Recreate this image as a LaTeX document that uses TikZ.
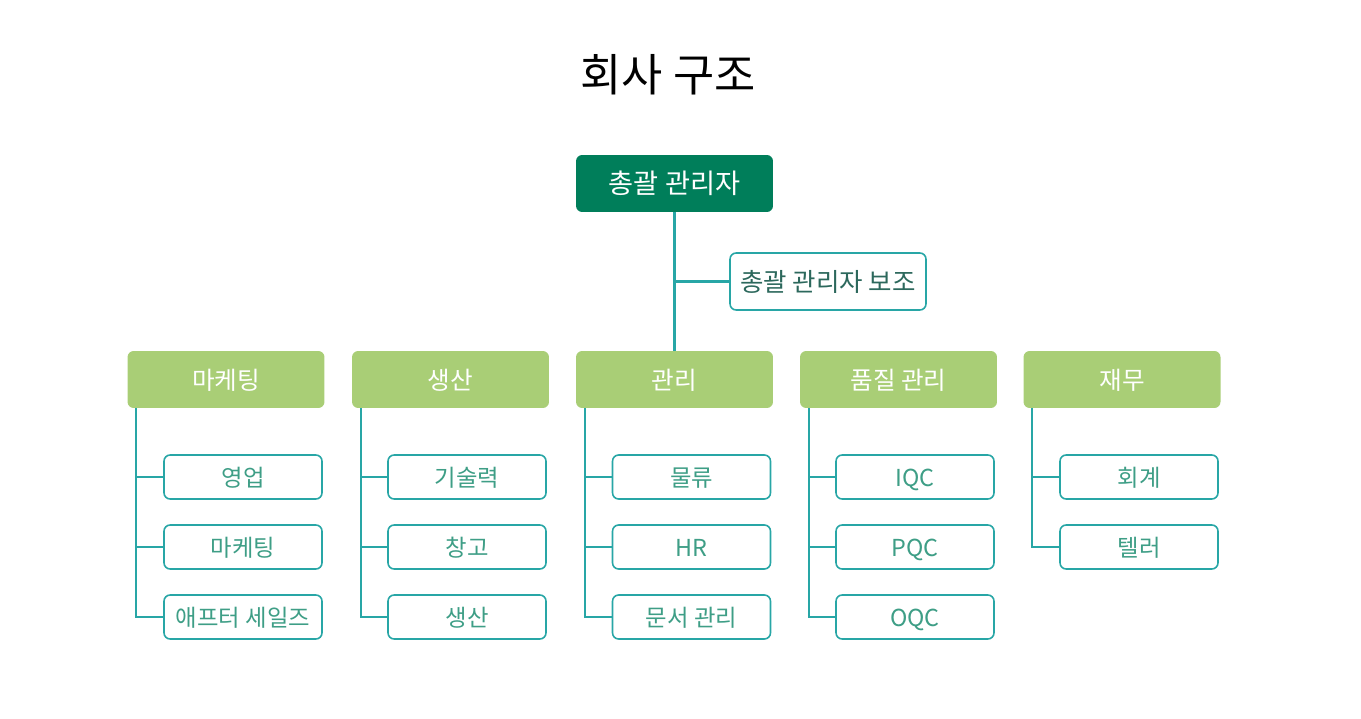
\documentclass[tikz,border=0pt]{standalone}
\usepackage{fontspec}
\setmainfont{Noto Sans CJK KR}
\usetikzlibrary{positioning}

\definecolor{topgreen}{RGB}{0,126,90}
\definecolor{deptgreen}{RGB}{169,206,118}
\definecolor{linkteal}{RGB}{40,166,166}
\definecolor{unittext}{RGB}{62,158,134}
\definecolor{asstext}{RGB}{44,104,92}

\begin{document}
\begin{tikzpicture}[x=0.02cm,y=-0.02cm,
	head/.style={fill=topgreen,text=white,rounded corners=3.5pt,minimum width=3.94cm,minimum height=1.14cm,text height=1.2em,text depth=0.1em,font=\fontsize{15.5}{18}\selectfont},
	assist/.style={draw=linkteal,line width=0.9pt,fill=white,text=asstext,rounded corners=3.5pt,minimum width=3.92cm,minimum height=1.14cm,text height=1.2em,text depth=0.1em,font=\fontsize{14.5}{17}\selectfont},
	dept/.style={fill=deptgreen,text=white,rounded corners=3.5pt,minimum width=3.94cm,minimum height=1.14cm,text height=1.2em,text depth=0.1em,font=\fontsize{14}{16}\selectfont},
	unit/.style={draw=linkteal,line width=0.9pt,fill=white,text=unittext,rounded corners=3.5pt,minimum width=3.16cm,minimum height=0.88cm,text height=1.15em,text depth=0.1em,font=\fontsize{13.3}{16}\selectfont},
	link/.style={draw=linkteal,line width=1.3pt}]
		\useasboundingbox (0,0) rectangle (1361,719);
		%%%
		\node[font=\fontsize{25.5}{30}\selectfont] (title) at (668,75) {회사 구조};
		\node[head] (ceo) at (674.5,183.5) {총괄 관리자};
		\node[assist] (assist) at (828,281.5) {총괄 관리자 보조};
		%%%
		\node[dept] (mkt) at (226,379.5) {마케팅};
		\node[dept] (prod) at (450.5,379.5) {생산};
		\node[dept] (mgmt) at (674.5,379.5) {관리};
		\node[dept] (qual) at (898.5,379.5) {품질 관리};
		\node[dept] (fin) at (1122,379.5) {재무};
		%%%
		\node[unit] (mktA) at (243,477) {영업};
		\node[unit] (mktB) at (243,547) {마케팅};
		\node[unit] (mktC) at (243,617) {애프터 세일즈};
		\node[unit] (prodA) at (467,477) {기술력};
		\node[unit] (prodB) at (467,547) {창고};
		\node[unit] (prodC) at (467,617) {생산};
		\node[unit] (mgmtA) at (691.5,477) {물류};
		\node[unit] (mgmtB) at (691.5,547) {HR};
		\node[unit] (mgmtC) at (691.5,617) {문서 관리};
		\node[unit] (qualA) at (915,477) {IQC};
		\node[unit] (qualB) at (915,547) {PQC};
		\node[unit] (qualC) at (915,617) {OQC};
		\node[unit] (finA) at (1139,477) {회계};
		\node[unit] (finB) at (1139,547) {텔러};
		%%%
		\coordinate (mktline) at ([xshift=0.18cm]mkt.south west);
		\coordinate (prodline) at ([xshift=0.18cm]prod.south west);
		\coordinate (mgmtline) at ([xshift=0.18cm]mgmt.south west);
		\coordinate (qualline) at ([xshift=0.18cm]qual.south west);
		\coordinate (finline) at ([xshift=0.18cm]fin.south west);
		%%%
		\draw[link] (ceo) -- (mgmt);
		\draw[link] (assist.west) -- (assist.west -| ceo.south);
		\draw[link] (mktline) |- (mktC.west);
		\draw[link] (mktline |- mktA.west) -- (mktA.west);
		\draw[link] (mktline |- mktB.west) -- (mktB.west);
		\draw[link] (prodline) |- (prodC.west);
		\draw[link] (prodline |- prodA.west) -- (prodA.west);
		\draw[link] (prodline |- prodB.west) -- (prodB.west);
		\draw[link] (mgmtline) |- (mgmtC.west);
		\draw[link] (mgmtline |- mgmtA.west) -- (mgmtA.west);
		\draw[link] (mgmtline |- mgmtB.west) -- (mgmtB.west);
		\draw[link] (qualline) |- (qualC.west);
		\draw[link] (qualline |- qualA.west) -- (qualA.west);
		\draw[link] (qualline |- qualB.west) -- (qualB.west);
		\draw[link] (finline) |- (finB.west);
		\draw[link] (finline |- finA.west) -- (finA.west);
	\end{tikzpicture}
\end{document}
